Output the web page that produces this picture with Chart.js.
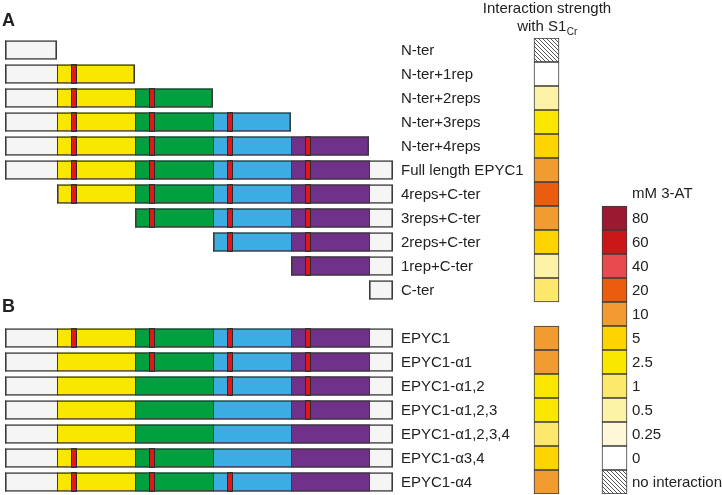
<!DOCTYPE html>
<html>
<head>
<meta charset="utf-8">
<script src="https://cdn.jsdelivr.net/npm/chart.js@4/dist/chart.umd.min.js"></script>
<style>
html,body{margin:0;padding:0;background:#fff;}
#wrap{width:722px;height:495px;position:relative;}
</style>
</head>
<body>
<div id="wrap"><canvas id="c" width="722" height="495"></canvas></div>
<script>
// ---------- DATA ----------
const constructs = ['N-ter','N-ter+1rep','N-ter+2reps','N-ter+3reps','N-ter+4reps','Full length EPYC1',
  '4reps+C-ter','3reps+C-ter','2reps+C-ter','1rep+C-ter','C-ter','',
  'EPYC1','EPYC1-\u03b11','EPYC1-\u03b11,2','EPYC1-\u03b11,2,3','EPYC1-\u03b11,2,3,4','EPYC1-\u03b13,4','EPYC1-\u03b14'];
// domains: 0 = N-ter, 1..4 = repeats, 5 = C-ter
const domainNames = ['N-ter','rep1','rep2','rep3','rep4','C-ter'];
const domainLengths = [52, 78, 78, 78, 78, 24];
const firstDomain = [0,0,0,0,0,0,1,2,3,4,5,null,0,0,0,0,0,0,0];
const lastDomain  = [0,1,2,3,4,5,5,5,5,5,5,null,5,5,5,5,5,5,5];
// alpha-helix (red) present in repeats 1..4 (1 = present, 0 = deleted)
const helixPresent = [
  [1,1,1,1],[1,1,1,1],[1,1,1,1],[1,1,1,1],[1,1,1,1],[1,1,1,1],
  [1,1,1,1],[1,1,1,1],[1,1,1,1],[1,1,1,1],[1,1,1,1],[0,0,0,0],
  [1,1,1,1],[0,1,1,1],[0,0,1,1],[0,0,0,1],[0,0,0,0],[1,1,0,0],[1,1,1,0]];
const helixOffset = 14, helixLength = 6;
// interaction strength with S1Cr (mM 3-AT); 'none' = no interaction
const strength = ['none','0','0.5','2.5','5','10','20','10','5','0.5','1',null,
  '10','10','2.5','2.5','1','5','10'];
const legendLevels = ['80','60','40','20','10','5','2.5','1','0.5','0.25','0','no interaction'];
const legendColors = ['#9b1a31','#cc1719','#e84a50','#ea5c0e','#f29b31','#fdd300','#f9e700','#fce96b','#fdf3a6','#fff8d8','#ffffff','hatch'];

// ---------- LAYOUT / STYLE ----------
const domainColors = ['#f5f5f5','#f9e700','#00a03f','#3aade2','#70318a','#f5f5f5'];
const helixColor = '#e2161c';
const edge = '#3b3b3b';
const squareX = [529, 554];
const legendX = [597, 622];
const legendFirstRow = 7;
const FONT = '"Liberation Sans", Arial, Helvetica, sans-serif';

function makeHatch(){
  const c = document.createElement('canvas'); c.width = 4; c.height = 4;
  const g = c.getContext('2d');
  g.fillStyle = '#ffffff'; g.fillRect(0,0,4,4);
  g.strokeStyle = '#444'; g.lineWidth = 0.9;
  g.beginPath(); g.moveTo(-1,-1); g.lineTo(5,5); g.moveTo(3,-1); g.lineTo(5,1); g.moveTo(-1,3); g.lineTo(1,5); g.stroke();
  return document.createElement('canvas').getContext('2d').createPattern(c,'repeat');
}
const hatch = makeHatch();
const colorOf = lvl => { const c = legendColors[legendLevels.indexOf(lvl === 'none' ? 'no interaction' : lvl)]; return c === 'hatch' ? hatch : c; };

const starts = [0]; domainLengths.forEach((l,i)=>starts.push(starts[i]+l));

const datasets = [];
// outline of each construct
datasets.push({
  label:'outline', order:0, barPercentage:0.82, categoryPercentage:1,
  data: constructs.map((_,i)=> firstDomain[i]===null ? null : [starts[firstDomain[i]], starts[lastDomain[i]+1]]),
  backgroundColor:'rgba(0,0,0,0)', borderColor:edge, borderWidth:1.6, borderSkipped:false
});
// helix marks
for (let r=0;r<4;r++){
  const d = r+1;
  datasets.push({
    label:'helix'+(r+1), order:1, barPercentage:0.84, categoryPercentage:1,
    data: constructs.map((_,i)=> (firstDomain[i]!==null && firstDomain[i]<=d && lastDomain[i]>=d && helixPresent[i][r]) ?
      [starts[d]+helixOffset, starts[d]+helixOffset+helixLength] : null),
    backgroundColor:helixColor, borderColor:'#2a2a2a', borderWidth:1, borderSkipped:false
  });
}
// domain segments
domainNames.forEach((nm,d)=>{
  datasets.push({
    label:nm, order:2, barPercentage:0.82, categoryPercentage:1,
    data: constructs.map((_,i)=> (firstDomain[i]!==null && firstDomain[i]<=d && lastDomain[i]>=d) ? [starts[d], starts[d+1]] : null),
    backgroundColor:domainColors[d], borderColor:edge, borderWidth:{left:1,right:0,top:0,bottom:0}, borderSkipped:false
  });
});
// interaction strength squares
datasets.push({
  label:'strength', order:2, barPercentage:1, categoryPercentage:1,
  data: strength.map(s => s===null ? null : squareX),
  backgroundColor: strength.map(s => s===null ? 'rgba(0,0,0,0)' : colorOf(s)),
  borderColor:edge, borderWidth:1, borderSkipped:false
});
// legend colour bar (shares the row grid)
datasets.push({
  label:'legend', order:2, barPercentage:1, categoryPercentage:1,
  data: constructs.map((_,i)=> (i>=legendFirstRow && i<legendFirstRow+legendLevels.length) ? legendX : null),
  backgroundColor: constructs.map((_,i)=> { const k=i-legendFirstRow; return (k>=0 && k<legendLevels.length) ? (legendColors[k]==='hatch'?hatch:legendColors[k]) : 'rgba(0,0,0,0)'; }),
  borderColor:edge, borderWidth:1, borderSkipped:false
});

const textPlugin = {
  id:'texts',
  afterDraw(chart){
    const ctx = chart.ctx, y = chart.scales.y;
    ctx.save();
    ctx.fillStyle = '#222222';
    ctx.textAlign = 'left'; ctx.textBaseline = 'middle';
    ctx.font = '15px ' + FONT;
    constructs.forEach((lab,i)=>{ if(lab) ctx.fillText(lab, 401, y.getPixelForValue(i)+1); });
    legendLevels.forEach((lab,k)=>{ ctx.fillText(lab, 632, y.getPixelForValue(legendFirstRow+k)+1); });
    ctx.textBaseline = 'alphabetic';
    ctx.fillText('mM 3-AT', 632, 198);
    ctx.textAlign = 'center';
    ctx.fillText('Interaction strength', 547, 13);
    // "with S1Cr"
    ctx.textAlign = 'left';
    const main = 'with S1';
    ctx.font = '15px ' + FONT; const w1 = ctx.measureText(main).width;
    ctx.font = '10px ' + FONT; const w2 = ctx.measureText('Cr').width;
    const x0 = 547 - (w1+w2)/2;
    ctx.font = '15px ' + FONT; ctx.fillText(main, x0, 31);
    ctx.font = '10px ' + FONT; ctx.fillText('Cr', x0+w1+0.5, 35);
    ctx.font = 'bold 18px ' + FONT;
    ctx.fillText('A', 2, 26);
    ctx.fillText('B', 2, 312);
    ctx.restore();
  }
};

new Chart(document.getElementById('c'), {
  type:'bar',
  data:{ labels: constructs, datasets },
  options:{
    indexAxis:'y', responsive:false, animation:false,
    grouped:false,
    layout:{ padding:{ top:38, bottom:1, left:0, right:0 } },
    plugins:{ legend:{display:false}, tooltip:{enabled:false} },
    scales:{
      x:{ display:false, min:-5, max:717 },
      y:{ display:false, offset:true }
    }
  },
  plugins:[textPlugin]
});
</script>
</body>
</html>
